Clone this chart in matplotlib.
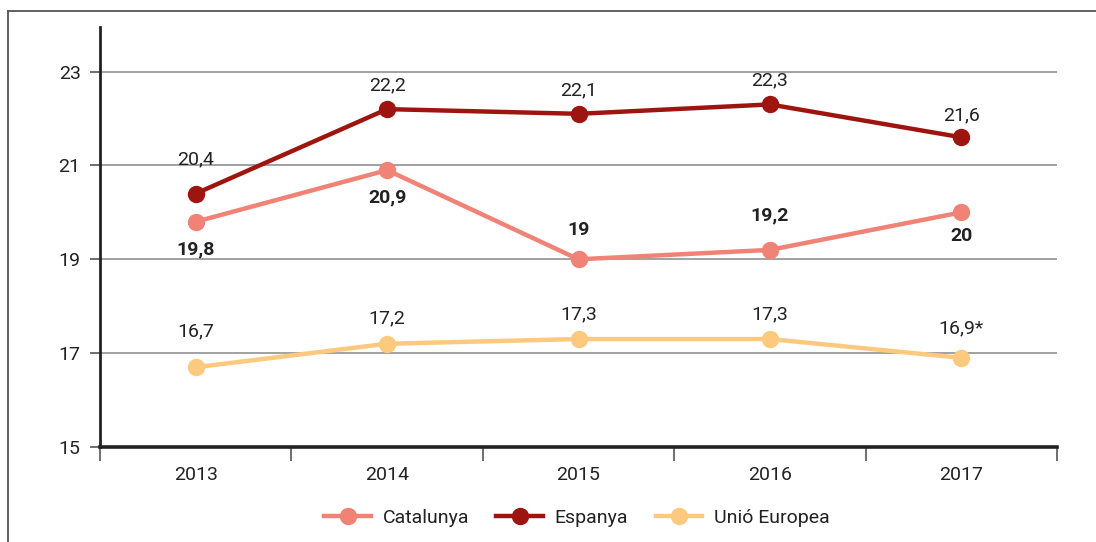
import matplotlib
matplotlib.use("Agg")
import matplotlib.pyplot as plt
from matplotlib.lines import Line2D

years = ["2013", "2014", "2015", "2016", "2017"]
catalunya = [19.8, 20.9, 19.0, 19.2, 20.0]
espanya = [20.4, 22.2, 22.1, 22.3, 21.6]
ue = [16.7, 17.2, 17.3, 17.3, 16.9]
cat_labels = ["19,8", "20,9", "19", "19,2", "20"]
esp_labels = ["20,4", "22,2", "22,1", "22,3", "21,6"]
ue_labels = ["16,7", "17,2", "17,3", "17,3", "16,9*"]
yticks = [15, 17, 19, 21, 23]

# label vertical offsets (points)
cat_off = [-20, -20, 21, 25, -17]
esp_off = [25, 17, 17, 17, 16]
ue_off = [26, 18, 18, 18, 21]

c_cat = "#F08375"
c_esp = "#9E1510"
c_ue = "#FDC97E"
txt = "#222222"

plt.rcParams['font.family'] = ['Roboto', 'DejaVu Sans']

fig = plt.figure(figsize=(10.96, 5.42), dpi=100)
ax = fig.add_axes([100/1096, 1-447/542, (1057-100)/1096, (447-27)/542])

x = list(range(len(years)))
for vals, col, z in [(ue, c_ue, 3), (catalunya, c_cat, 4), (espanya, c_esp, 5)]:
    ax.plot(x, vals, color=col, lw=3.2, marker='o', ms=11.5, mec=col, mfc=col, zorder=z,
            solid_capstyle='round')

for xi, v, s, o in zip(x, espanya, esp_labels, esp_off):
    ax.annotate(s, (xi, v), xytext=(0, o), textcoords='offset points', ha='center', va='center',
                fontsize=14, color=txt)
for xi, v, s, o in zip(x, catalunya, cat_labels, cat_off):
    ax.annotate(s, (xi, v), xytext=(0, o), textcoords='offset points', ha='center', va='center',
                fontsize=14, color=txt, fontweight='bold')
for xi, v, s, o in zip(x, ue, ue_labels, ue_off):
    ax.annotate(s, (xi, v), xytext=(0, o), textcoords='offset points', ha='center', va='center',
                fontsize=14, color=txt)

ax.set_xlim(-0.5, len(years) - 0.5)
ax.set_ylim(15, 23.95)
ax.set_yticks(yticks)
ax.set_yticklabels([str(t) for t in yticks], fontsize=14, color=txt)
ax.set_xticks(x)
ax.set_xticklabels(years, fontsize=14, color=txt)
ax.tick_params(axis='x', length=0, pad=14)
ax.set_xticks([i - 0.5 for i in range(len(years) + 1)], minor=True)
ax.tick_params(axis='x', which='minor', length=10, width=1.2, color='#555555')
ax.tick_params(axis='y', length=7, width=1.2, color='#555555', pad=7)

for t in yticks[1:]:
    ax.axhline(t, color='#888888', lw=1.1, zorder=1)

for s in ['top', 'right']:
    ax.spines[s].set_visible(False)
ax.spines['left'].set_linewidth(2)
ax.spines['left'].set_color('#222222')
ax.spines['bottom'].set_linewidth(2.6)
ax.spines['bottom'].set_color('#222222')
ax.spines['left'].set_zorder(6)
ax.spines['bottom'].set_zorder(6)

handles = [Line2D([], [], color=c, lw=3.2, marker='o', ms=11.5, mec=c, mfc=c) for c in (c_cat, c_esp, c_ue)]
fig.legend(handles, ["Catalunya", "Espanya", "Unió Europea"], loc='center', bbox_to_anchor=(577/1096, 1-518/542),
           ncol=3, frameon=False, fontsize=14, handlelength=2.4, columnspacing=1.4, handletextpad=0.6,
           labelcolor=txt)

# frame lines of the figure
fig.add_artist(Line2D([8/1096, 1], [1-11/542, 1-11/542], color='#555555', lw=1.3, transform=fig.transFigure))
fig.add_artist(Line2D([8/1096, 8/1096], [0, 1-11/542], color='#555555', lw=1.3, transform=fig.transFigure))

fig.savefig("out.png", dpi=100)
